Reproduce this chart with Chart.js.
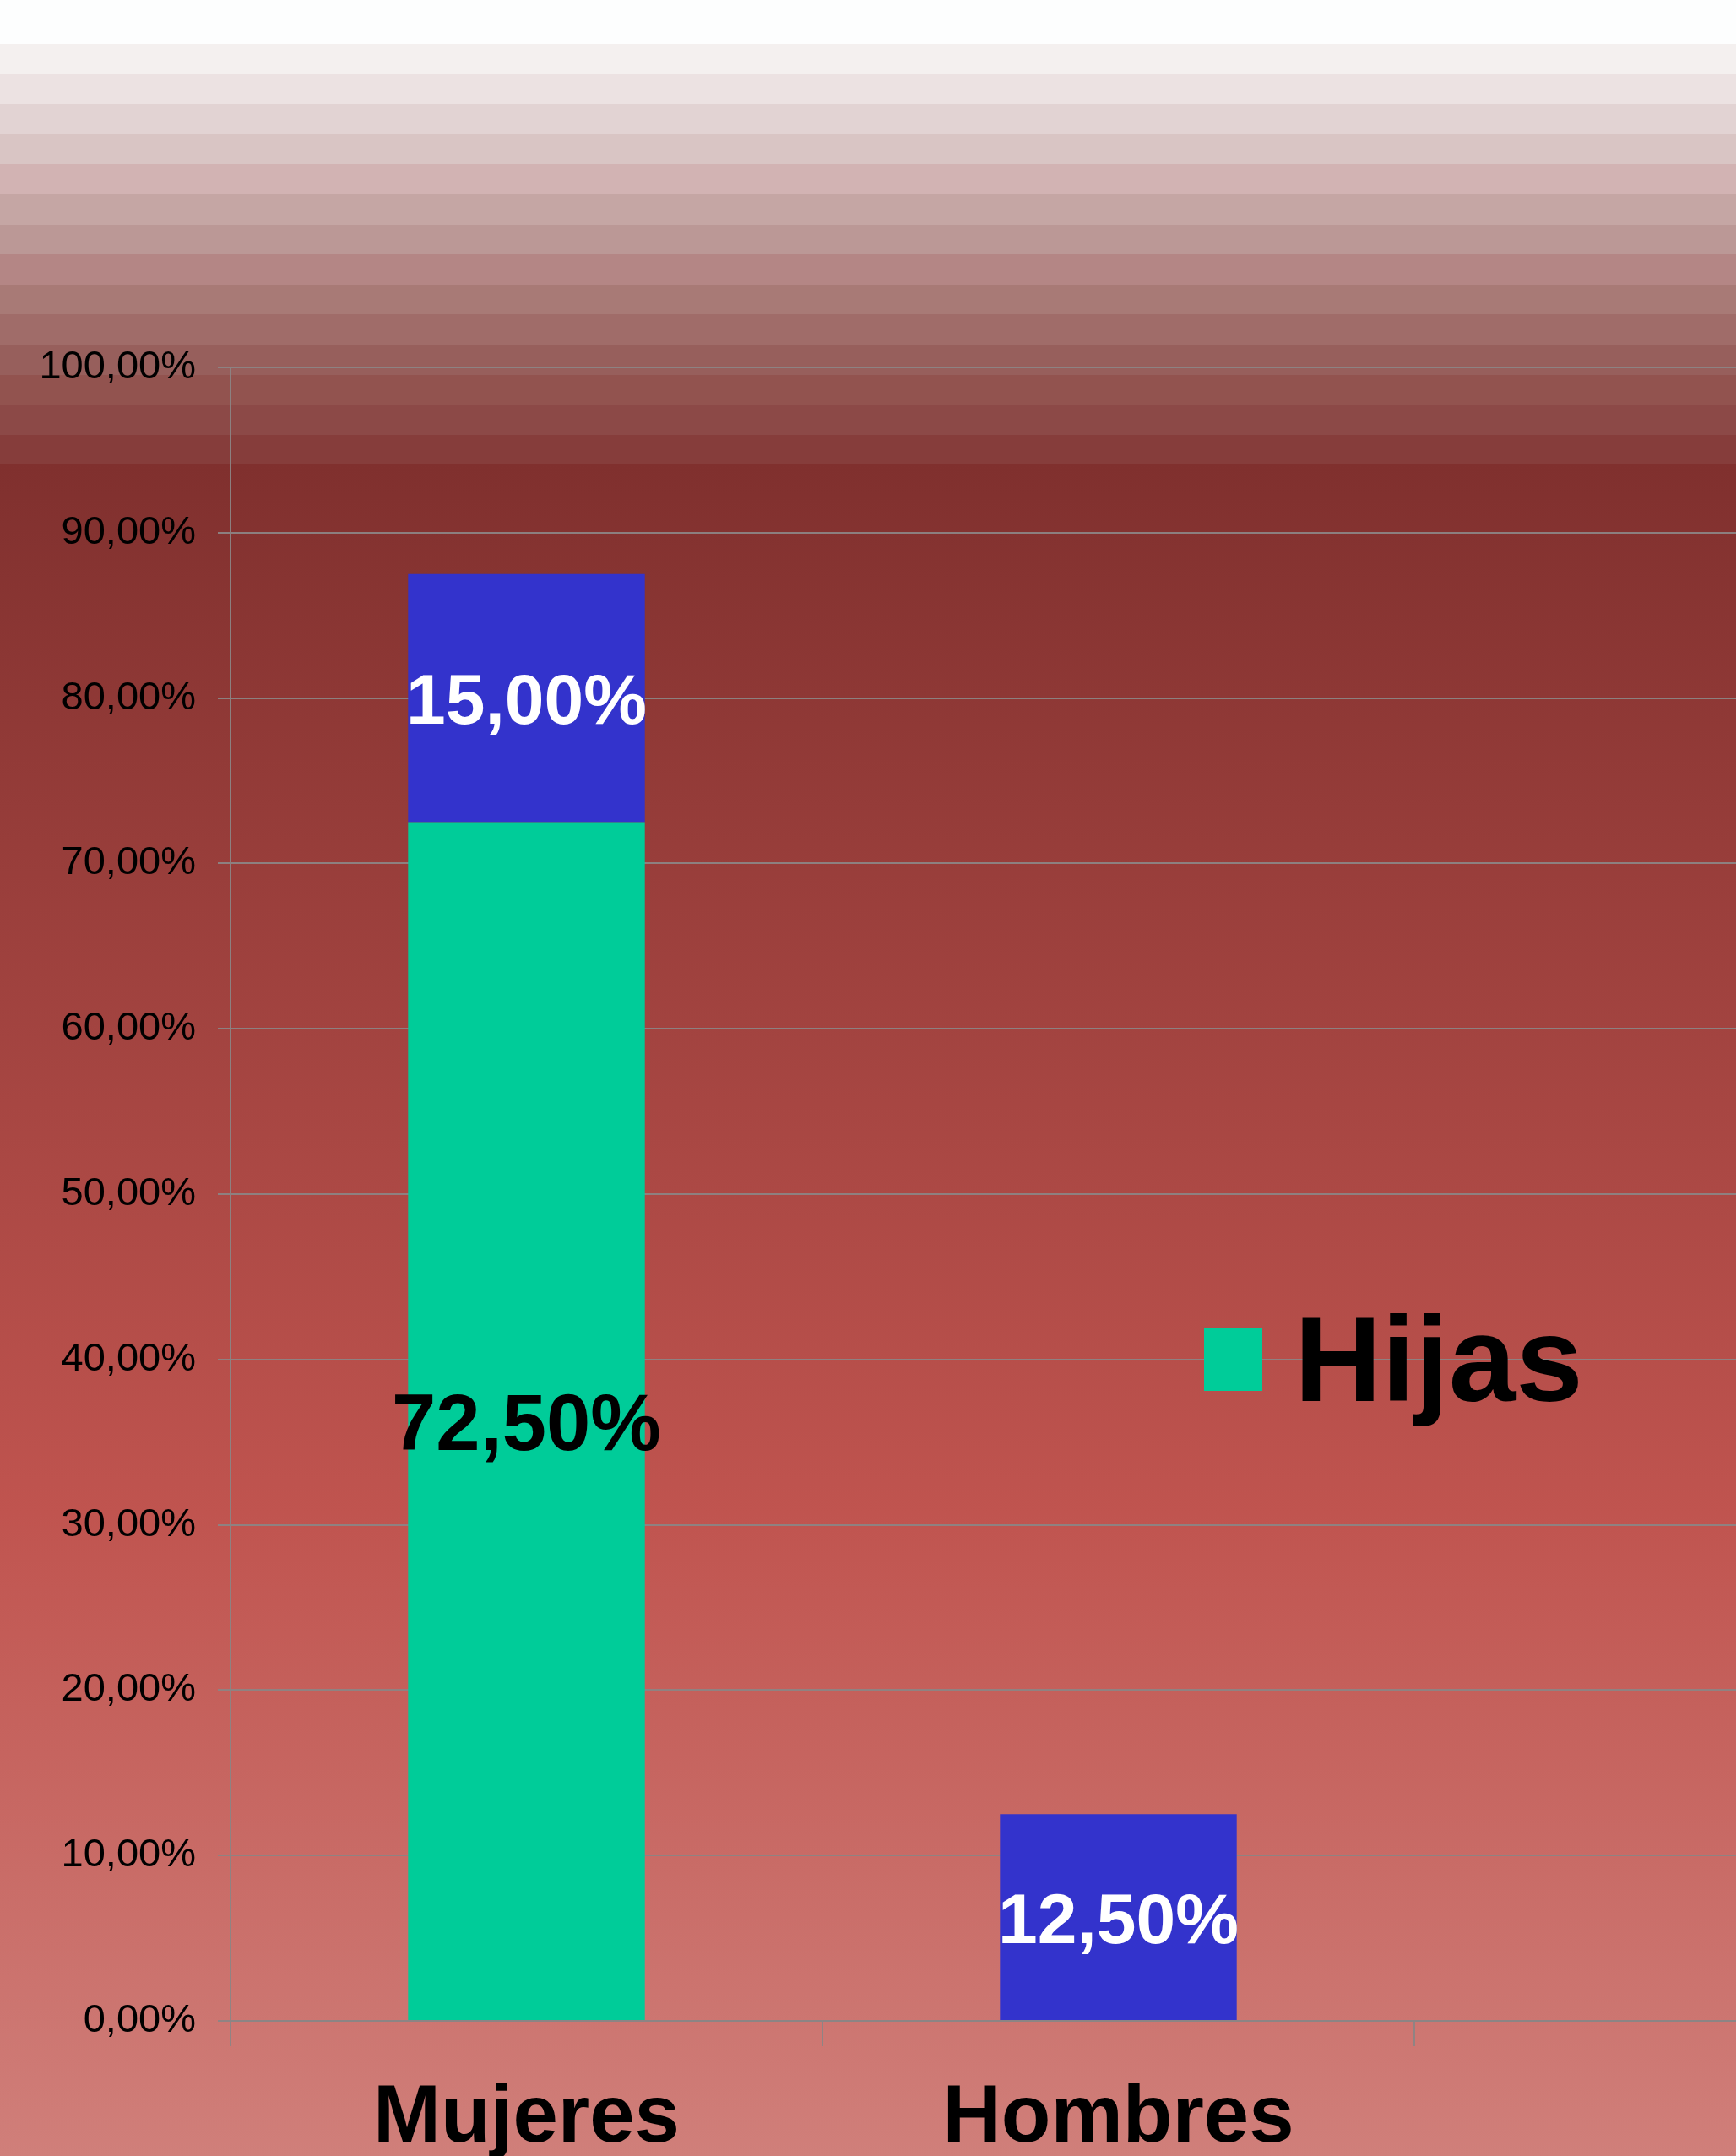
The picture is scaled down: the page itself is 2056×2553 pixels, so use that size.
<!DOCTYPE html>
<html>
<head>
<meta charset="utf-8">
<title>Hijas</title>
<script src="https://cdn.jsdelivr.net/npm/chart.js@4.4.1/dist/chart.umd.min.js"></script>
<style>
    html, body { margin: 0; padding: 0; background: #fff; overflow: hidden; }
    #wrap { position: relative; width: 2056px; height: 2553px; overflow: hidden; }
    #chart { position: absolute; left: 0; top: 0; }
</style>
</head>
<body>
<div id="wrap"><canvas id="chart" width="2400" height="2553"></canvas></div>
<script>
/* ========================================
   Data
   ======================================== */
const categories = ['Mujeres', 'Hombres', ''];
const hijasValues = [72.5, null];
const hijosValues = [15, 12.5];
const yTickValues = [0, 10, 20, 30, 40, 50, 60, 70, 80, 90, 100];
const yTickLabels = ['0,00%', '10,00%', '20,00%', '30,00%', '40,00%', '50,00%',
                     '60,00%', '70,00%', '80,00%', '90,00%', '100,00%'];

const FONT = "'Liberation Sans', Arial, sans-serif";
const GRID = 'rgba(140, 132, 132, 0.95)';

// banded fade at the top of the slide background
const topBands = ['#f4f0ef', '#ece2e2', '#e2d3d3', '#d9c5c4', '#d2b3b3', '#c5a6a4', '#bb9896',
                  '#b48685', '#a87a76', '#a06c69', '#975f5c', '#92534f', '#8c4947', '#863d3b'];

function fmtPct(v) {
    return v.toFixed(2).replace('.', ',') + '%';
}

const backdrop = {
    id: 'backdrop',
    beforeDraw(chart) {
        const ctx = chart.ctx;
        const w = chart.width, h = chart.height;
        ctx.save();
        ctx.fillStyle = '#fdfefe';
        ctx.fillRect(0, 0, w, h);
        const bandTop = 52, bandH = 35.6;
        topBands.forEach((c, i) => {
            ctx.fillStyle = c;
            ctx.fillRect(0, Math.round(bandTop + i * bandH), w, Math.ceil(bandH) + 1);
        });
        const start = Math.round(bandTop + topBands.length * bandH);
        const g = ctx.createLinearGradient(0, start, 0, h);
        g.addColorStop(0, '#80302e');
        g.addColorStop(0.62, '#c0544f');
        g.addColorStop(1, '#d07f7a');
        ctx.fillStyle = g;
        ctx.fillRect(0, start, w, h - start);
        ctx.restore();
    }
};

const barLabels = {
    id: 'barLabels',
    afterDatasetsDraw(chart) {
        const ctx = chart.ctx;
        chart.data.datasets.forEach((ds, di) => {
            const meta = chart.getDatasetMeta(di);
            meta.data.forEach((el, i) => {
                const v = ds.data[i];
                if (v === null || v === undefined) return;
                ctx.save();
                ctx.font = 'bold ' + ds.labelSize + 'px ' + FONT;
                ctx.fillStyle = ds.labelColor;
                ctx.textAlign = 'center';
                ctx.textBaseline = 'middle';
                // nudge down a little so the caps sit on the segment centre
                ctx.fillText(fmtPct(v), el.x, (el.y + el.base) / 2 + ds.labelSize * 0.09);
                ctx.restore();
            });
        });
    }
};

// only the Hijas entry is visible in the slide
const sideLegend = {
    id: 'sideLegend',
    afterDraw(chart) {
        const ctx = chart.ctx;
        const ds = chart.data.datasets[0];
        ctx.save();
        ctx.fillStyle = ds.backgroundColor;
        ctx.fillRect(1426, 1573, 69, 74);
        ctx.fillStyle = '#000';
        ctx.font = 'bold 143px ' + FONT;
        ctx.textBaseline = 'alphabetic';
        ctx.fillText(ds.label, 1533, 1659);
        ctx.restore();
    }
};

new Chart(document.getElementById('chart'), {
    type: 'bar',
    data: {
        labels: categories,
        datasets: [
            {
                label: 'Hijas',
                data: hijasValues,
                backgroundColor: '#00cc99',
                labelColor: '#000',
                labelSize: 94
            },
            {
                label: 'Hijos',
                data: hijosValues,
                backgroundColor: '#3333cc',
                labelColor: '#fff',
                labelSize: 84
            }
        ]
    },
    options: {
        responsive: false,
        animation: false,
        layout: { padding: { top: 435, right: 24, left: 0, bottom: 0 } },
        datasets: { bar: { categoryPercentage: 1, barPercentage: 0.4 } },
        plugins: {
            legend: { display: false },
            tooltip: { enabled: false }
        },
        scales: {
            x: {
                stacked: true,
                offset: true,
                afterFit: s => { s.height = 160; },
                grid: { drawOnChartArea: false, offset: true, tickLength: 30, color: GRID, lineWidth: 2 },
                border: { color: GRID, width: 2 },
                ticks: {
                    color: '#000',
                    padding: 29,
                    font: { family: FONT, size: 96, weight: 'bold' }
                }
            },
            y: {
                stacked: true,
                min: 0,
                max: 100,
                afterFit: s => { s.width = 273; },
                afterBuildTicks: s => { s.ticks = yTickValues.map(v => ({ value: v })); },
                grid: { color: GRID, lineWidth: 2, tickLength: 15 },
                border: { color: GRID, width: 2 },
                ticks: {
                    color: '#000',
                    padding: 26,
                    font: { family: FONT, size: 47 },
                    callback: (v) => yTickLabels[yTickValues.indexOf(v)]
                }
            }
        }
    },
    plugins: [backdrop, barLabels, sideLegend]
});
</script>
</body>
</html>
